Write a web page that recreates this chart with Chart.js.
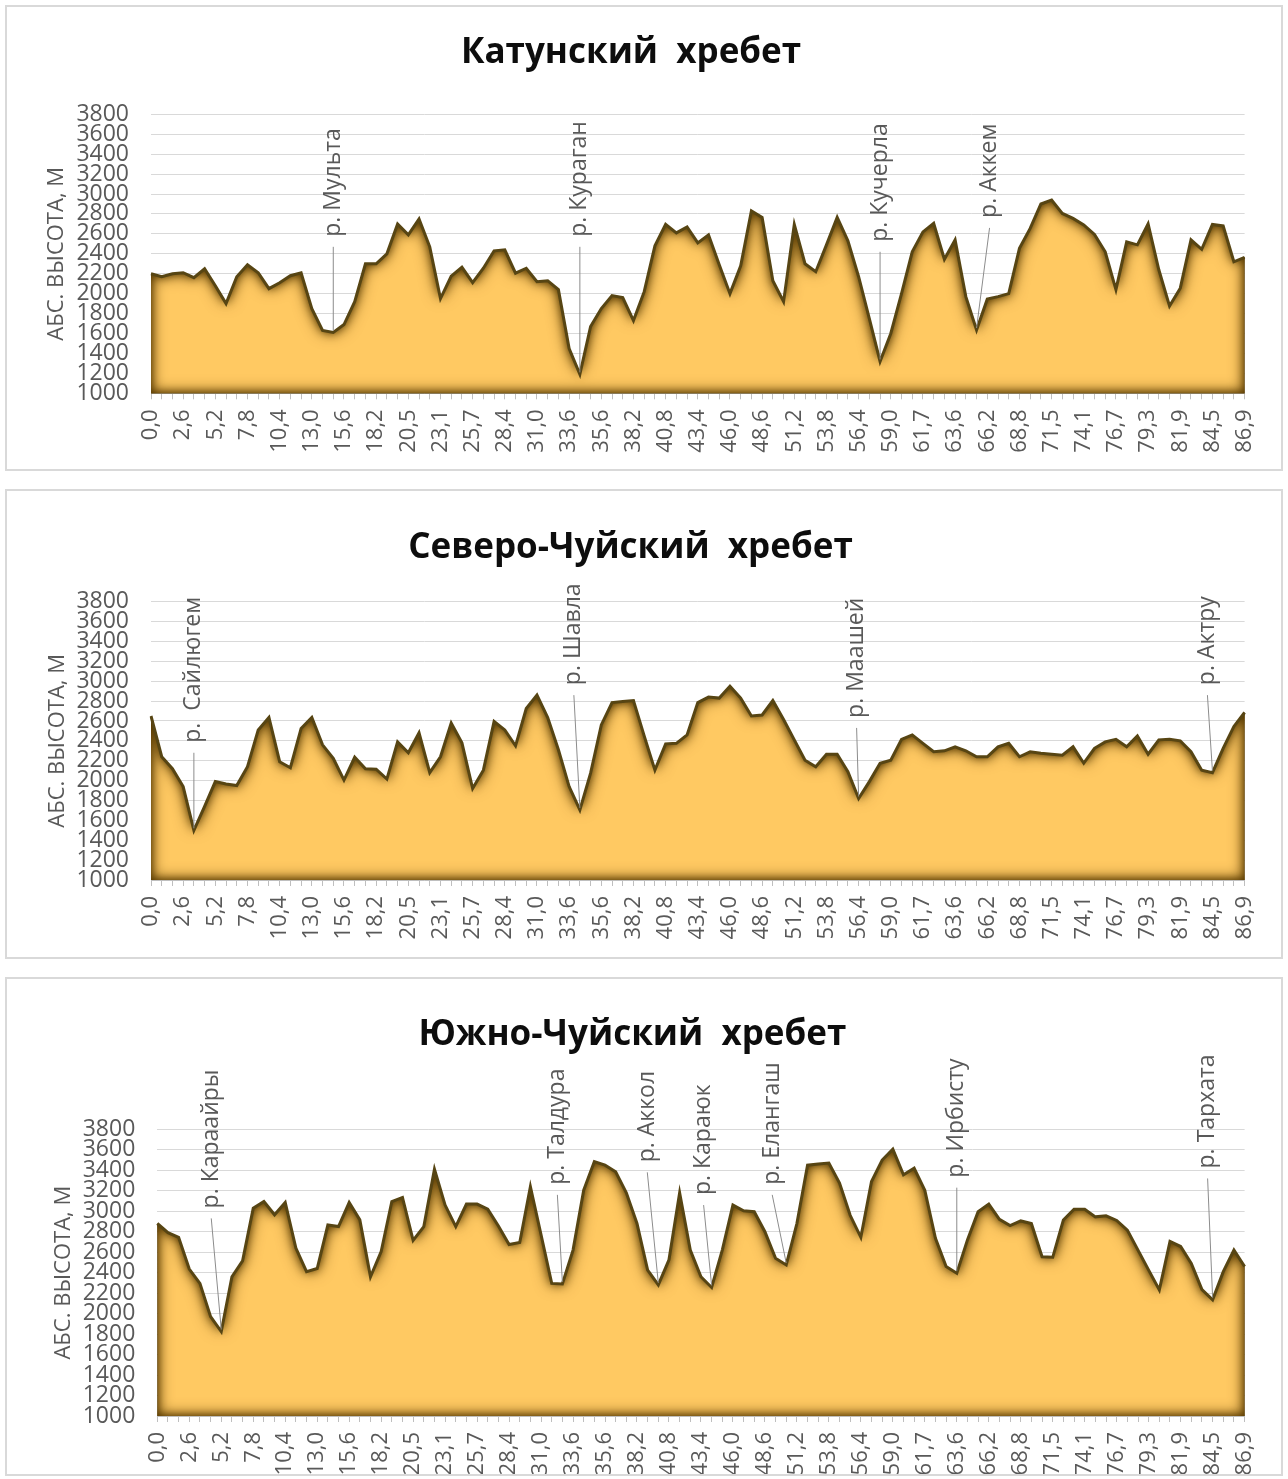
<!DOCTYPE html>
<html lang="ru">
<head>
<meta charset="utf-8">
<title>Профили хребтов</title>
<script src="https://cdn.jsdelivr.net/npm/chart.js@4.4.1/dist/chart.umd.min.js"></script>
<style>
  html, body { margin: 0; padding: 0; background: #fff; }
  body { width: 1288px; height: 1479px; position: relative; overflow: hidden; }
  .panel { position: absolute; left: 5px; width: 1278px; border: 2px solid #d9d9d9; box-sizing: border-box; background: #fff; }
  .panel canvas { display: block; }
</style>
</head>
<body>
<div class="panel" style="top:5px;height:466px"><canvas id="katun-chart" width="1274" height="462"></canvas></div>
<div class="panel" style="top:489px;height:470px"><canvas id="north-chart" width="1274" height="466"></canvas></div>
<div class="panel" style="top:977px;height:499px"><canvas id="south-chart" width="1274" height="495"></canvas></div>
<script>
// distance along the ridge, km (every third one is labelled)
var distances = [
  0.0, 0.9, 1.7, 2.6, 3.5, 4.3, 5.2, 6.1, 6.9, 7.8, 8.7, 9.5, 10.4, 11.3, 12.1,
  13.0, 13.9, 14.7, 15.6, 16.5, 17.3, 18.2, 19.0, 19.7, 20.5, 21.4, 22.2, 23.1,
  24.0, 24.8, 25.7, 26.6, 27.5, 28.4, 29.3, 30.1, 31.0, 31.9, 32.7, 33.6, 34.3,
  34.9, 35.6, 36.5, 37.3, 38.2, 39.1, 39.9, 40.8, 41.7, 42.5, 43.4, 44.3, 45.1,
  46.0, 46.9, 47.7, 48.6, 49.5, 50.3, 51.2, 52.1, 52.9, 53.8, 54.7, 55.5, 56.4,
  57.3, 58.1, 59.0, 59.9, 60.8, 61.7, 62.3, 63.0, 63.6, 64.5, 65.3, 66.2, 67.1,
  67.9, 68.8, 69.7, 70.6, 71.5, 72.4, 73.2, 74.1, 75.0, 75.8, 76.7, 77.6, 78.4,
  79.3, 80.2, 81.0, 81.9, 82.8, 83.6, 84.5, 85.3, 86.1, 86.9
];

// absolute heights, m
var katunHeights = [
  2200, 2170, 2200, 2210, 2160, 2250, 2080, 1900, 2170, 2290,
  2210, 2050, 2110, 2180, 2210, 1850, 1630, 1610, 1690, 1920,
  2300, 2300, 2400, 2700, 2590, 2750, 2470, 1950, 2175, 2265,
  2110, 2255, 2430, 2440, 2205, 2255, 2120, 2130, 2040, 1450,
  1190, 1670, 1850, 1980, 1960, 1730, 2020, 2480, 2695, 2610,
  2670, 2510, 2590, 2290, 2000, 2280, 2830, 2765, 2130, 1920,
  2695, 2300, 2220, 2490, 2765, 2530, 2170, 1750, 1320, 1600,
  2000, 2420, 2620, 2705, 2345, 2540, 1970, 1635, 1945, 1970,
  2000, 2455, 2655, 2900, 2940, 2805, 2755, 2690, 2595, 2420,
  2040, 2520, 2490, 2700, 2240, 1875, 2055, 2540, 2445, 2695,
  2680, 2320, 2365
];

var northHeights = [
  2650, 2240, 2120, 1940, 1500, 1740, 1990, 1965, 1950, 2140,
  2510, 2635, 2190, 2130, 2525, 2635, 2360, 2225, 2005, 2235,
  2120, 2115, 2015, 2390, 2280, 2480, 2080, 2240, 2580, 2380,
  1920, 2105, 2595, 2510, 2350, 2725, 2860, 2635, 2310, 1940,
  1705, 2075, 2560, 2785, 2795, 2805, 2450, 2105, 2370, 2375,
  2460, 2785, 2840, 2830, 2950, 2830, 2650, 2660, 2805, 2615,
  2410, 2205, 2140, 2265, 2265, 2090, 1820, 1990, 2175, 2205,
  2415, 2460, 2375, 2290, 2300, 2340, 2300, 2240, 2240, 2340,
  2375, 2240, 2290, 2275, 2265, 2255, 2340, 2175, 2325, 2390,
  2415, 2340, 2450, 2265, 2410, 2415, 2400, 2290, 2105, 2080,
  2325, 2545, 2685
];

var southHeights = [
  2880, 2790, 2745, 2435, 2295, 1970, 1825, 2360, 2515, 3030,
  3095, 2965, 3085, 2640, 2410, 2440, 2865, 2850, 3085, 2915,
  2360, 2605, 3095, 3135, 2715, 2850, 3410, 3060, 2850, 3070,
  3070, 3020, 2855, 2675, 2695, 3240, 2770, 2295, 2290, 2620,
  3205, 3485, 3450, 3385, 3180, 2880, 2425, 2280, 2525, 3180,
  2620, 2360, 2255, 2620, 3060, 3005, 2995, 2800, 2540, 2475,
  2880, 3450, 3460, 3470, 3275, 2960, 2745, 3290, 3500, 3605,
  3355, 3420, 3205, 2735, 2460, 2395, 2720, 2995, 3070, 2920,
  2860, 2905, 2880, 2555, 2550, 2915, 3020, 3020, 2945, 2955,
  2910, 2815, 2620, 2425, 2230, 2705, 2655, 2490, 2235, 2135,
  2410, 2620, 2460
];

// y axis ticks
var heightMin = 1000;
var heightMax = 3800;
var heightStep = 200;

// rivers crossing each ridge: name and index of the valley point
var katunRivers = ["р. Мульта", "р. Кураган", "р. Кучерла", "р. Аккем"];
var katunRiverIdx = [17, 40, 68, 77];
var northRivers = ["р.  Сайлюгем", "р. Шавла", "р. Маашей", "р. Актру"];
var northRiverIdx = [4, 40, 66, 99];
var southRivers = ["р. Караайры", "р. Талдура", "р. Аккол", "р. Караюк", "р. Елангаш", "р. Ирбисту", "р. Тархата"];
var southRiverIdx = [6, 38, 47, 52, 59, 75, 99];

// where the callout starts: height of the leader top (m) and x shift (px)
var katunCallouts = [[2470, 0], [2470, 0], [2420, 0], [2660, 13]];
var northCallouts = [[2280, 0], [2860, -6], [2530, -2], [2860, -5]];
var southCallouts = [[2930, -10], [3160, -5], [3380, -11], [3060, -8], [3160, -14], [3230, 0], [3320, -5]];

var TEXT_GREY = "#595959";

document.addEventListener("DOMContentLoaded", function () {
  drawRidge("katun-chart", "Катунский  хребет", katunHeights, katunRivers, katunRiverIdx, katunCallouts,
    { left: 144, right: 26, titleTop: 25, titleBottom: 40.3, xHeight: 75.7, yTitle: 37 });
  drawRidge("north-chart", "Северо-Чуйский  хребет", northHeights, northRivers, northRiverIdx, northCallouts,
    { left: 144, right: 27, titleTop: 36, titleBottom: 32.7, xHeight: 77, yTitle: 38 });
  drawRidge("south-chart", "Южно-Чуйский  хребет", southHeights, southRivers, southRiverIdx, southCallouts,
    { left: 150.3, right: 23.3, titleTop: 35, titleBottom: 73.3, xHeight: 58, yTitle: 43.5 });
});

function formatKm(km) {
  return km.toFixed(1).replace(".", ",");
}

// builds the closed outline of the filled profile
function profilePath(ctx, pts, bottom) {
  ctx.moveTo(pts[0].x, bottom);
  pts.forEach(function (p) {
    ctx.lineTo(p.x, p.y);
  });
  ctx.lineTo(pts[pts.length - 1].x, bottom);
  ctx.closePath();
}

// dark inner glow along the edges of the filled area
var ridgeShade = {
  id: "ridgeShade",
  beforeDatasetDraw: function (chart, args) {
    const pts = args.meta.data;
    const area = chart.chartArea;
    const ctx = chart.ctx;
    ctx.save();
    ctx.beginPath();
    profilePath(ctx, pts, area.bottom);
    ctx.clip();
    ctx.shadowColor = "rgba(88, 58, 0, 1)";
    ctx.fillStyle = "#583a00";
    [16, 8].forEach(function (blur) {
      ctx.shadowBlur = blur;
      ctx.beginPath();
      ctx.rect(area.left - 300, area.top - 600, area.width + 600, area.height + 900);
      profilePath(ctx, pts, area.bottom);
      ctx.fill("evenodd");
    });
    ctx.restore();
  },
};

// river names with leader lines down to the valley
var riverCallouts = {
  id: "riverCallouts",
  afterDatasetsDraw: function (chart, args, opts) {
    const pts = chart.getDatasetMeta(0).data;
    const yScale = chart.scales.y;
    const ctx = chart.ctx;
    ctx.save();
    opts.names.forEach(function (name, i) {
      const p = pts[opts.index[i]];
      const x = p.x + opts.place[i][1];
      const yTop = yScale.getPixelForValue(opts.place[i][0]);

      ctx.strokeStyle = "#8c8c8c";
      ctx.lineWidth = 1;
      ctx.beginPath();
      ctx.moveTo(x, yTop);
      ctx.lineTo(p.x, p.y - 2);
      ctx.stroke();

      ctx.translate(x, yTop - 10);
      ctx.rotate(-Math.PI / 2);
      ctx.fillStyle = TEXT_GREY;
      ctx.font = "23px 'Open Sans'";
      ctx.textAlign = "left";
      ctx.textBaseline = "middle";
      ctx.fillText(name, 0, 0);
      ctx.setTransform(1, 0, 0, 1, 0, 0);
    });
    ctx.restore();
  },
};

function drawRidge(canvasId, title, heights, rivers, riverIdx, callouts, box) {
  const ctx = document.getElementById(canvasId).getContext("2d");

  new Chart(ctx, {
    type: "line",
    data: {
      labels: distances.map(formatKm),
      datasets: [
        {
          data: heights,
          borderColor: "#574513",
          borderWidth: 3,
          backgroundColor: "#ffc962",
          fill: "start",
          pointRadius: 0,
          tension: 0,
        },
      ],
    },
    options: {
      responsive: false,
      animation: false,
      layout: { padding: { left: 0, right: box.right, top: 0, bottom: 0 } },
      plugins: {
        legend: { display: false },
        tooltip: { enabled: false },
        title: {
          display: true,
          text: title,
          color: "#0d0d0d",
          font: { family: "'Open Sans'", size: 35, weight: "bold", lineHeight: 1.2 },
          padding: { top: box.titleTop, bottom: box.titleBottom },
        },
        riverCallouts: { names: rivers, index: riverIdx, place: callouts },
      },
      scales: {
        x: {
          grid: { display: true, drawOnChartArea: false, drawTicks: true, tickLength: 6, color: "#bfbfbf" },
          border: { display: true, color: "#bfbfbf" },
          ticks: {
            autoSkip: false,
            minRotation: 90,
            maxRotation: 90,
            padding: 10,
            color: TEXT_GREY,
            font: { family: "'Open Sans'", size: 22 },
            callback: function (value, index) {
              return index % 3 === 0 ? this.getLabelForValue(value) : "";
            },
          },
          afterFit: function (scale) {
            scale.height = box.xHeight;
          },
        },
        y: {
          min: heightMin,
          max: heightMax,
          grid: { color: "#d9d9d9", drawTicks: false },
          border: { display: false },
          ticks: {
            stepSize: heightStep,
            autoSkip: false,
            padding: 22,
            color: TEXT_GREY,
            font: { family: "'Open Sans'", size: 23, lineHeight: 1 },
            callback: function (value) {
              return String(value);
            },
          },
          title: {
            display: true,
            text: "АБС. ВЫСОТА, М",
            color: TEXT_GREY,
            font: { family: "'Open Sans'", size: 22, lineHeight: 1.2 },
            padding: { top: box.yTitle, bottom: 0 },
          },
          afterFit: function (scale) {
            scale.width = box.left;
          },
        },
      },
    },
    plugins: [ridgeShade, riverCallouts],
  });
}
</script>
</body>
</html>
